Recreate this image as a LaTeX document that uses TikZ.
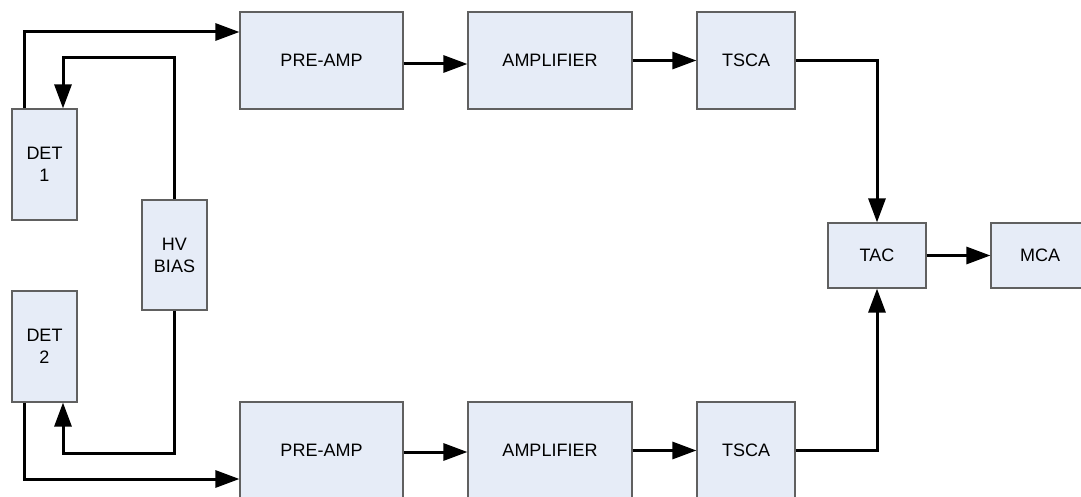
\documentclass[tikz,border=0pt]{standalone}
\usepackage{fontspec}
\setmainfont{Liberation Sans}
\usetikzlibrary{arrows.meta}

\definecolor{boxfill}{RGB}{230,236,247}
\definecolor{boxline}{RGB}{96,96,96}

\tikzset{
  block/.style={draw=boxline, line width=1.2pt, fill=boxfill, inner sep=0pt,
    align=center, font=\fontsize{18}{22}\selectfont},
  tallbox/.style={block, minimum width=65pt, minimum height=111pt},
  widebox/.style={block, minimum width=163pt, minimum height=97pt},
  sqbox/.style={block, minimum width=98pt, minimum height=97pt},
  flatbox/.style={block, minimum width=98pt, minimum height=65pt},
  wire/.style={line width=3pt, -{Triangle[length=24pt,width=17pt]}},
  plainwire/.style={line width=3pt}
}

\begin{document}
\begin{tikzpicture}[x=1pt,y=-1pt]
  \useasboundingbox (0,0) rectangle (1081,497);
  \begin{scope}
  \clip (0,0) rectangle (1081,497);

  % detectors and bias supply
  \node[tallbox] (det1) at (44.5,164.5) {DET\\1};
  \node[tallbox] (det2) at (44.5,346.5) {DET\\2};
  \node[tallbox, minimum height=110pt] (hv) at (174.5,255) {HV\\BIAS};

  % upper timing branch
  \node[widebox] (pa1)   at (321.5,60.5) {PRE-AMP};
  \node[widebox, minimum width=164pt] (amp1) at (550,60.5) {AMPLIFIER};
  \node[sqbox]   (tsca1) at (746,60.5) {TSCA};

  % lower timing branch
  \node[widebox] (pa2)   at (321.5,450.5) {PRE-AMP};
  \node[widebox, minimum width=164pt] (amp2) at (550,450.5) {AMPLIFIER};
  \node[sqbox]   (tsca2) at (746,450.5) {TSCA};

  % time-to-amplitude conversion and MCA
  \node[flatbox] (tac) at (877,255.5) {TAC};
  \node[flatbox] (mca) at (1040,255.5) {MCA};

  % bend points of the bias lines
  \coordinate (hvtop) at (174.5,58);
  \coordinate (hvbot) at (174.5,453);

  % detector signals to the preamplifiers
  \draw[wire] ([xshift=-20.5pt]det1.north) |- ([yshift=28.5pt]pa1.west);
  \draw[wire] ([xshift=-20.5pt]det2.south) |- ([yshift=-28.5pt]pa2.west);

  % high voltage to the detectors
  \draw[wire] (hv.north) -- (hvtop) -| ([xshift=18.5pt]det1.north);
  \draw[wire] (hv.south) -- (hvbot) -| ([xshift=18.5pt]det2.south);

  % signal chains
  \draw[wire] ([yshift=-3.5pt]pa1.east) -- ([yshift=-3.5pt]amp1.west);
  \draw[wire] (amp1.east) -- (tsca1.west);
  \draw[wire] ([yshift=-1.5pt]pa2.east) -- ([yshift=-1.5pt]amp2.west);
  \draw[wire] (amp2.east) -- (tsca2.west);

  % start and stop into the TAC
  \draw[wire] (tsca1.east) -| (tac.north);
  \draw[wire] (tsca2.east) -| (tac.south);
  \draw[wire] (tac.east) -- (mca.west);
  \end{scope}
\end{tikzpicture}
\end{document}
